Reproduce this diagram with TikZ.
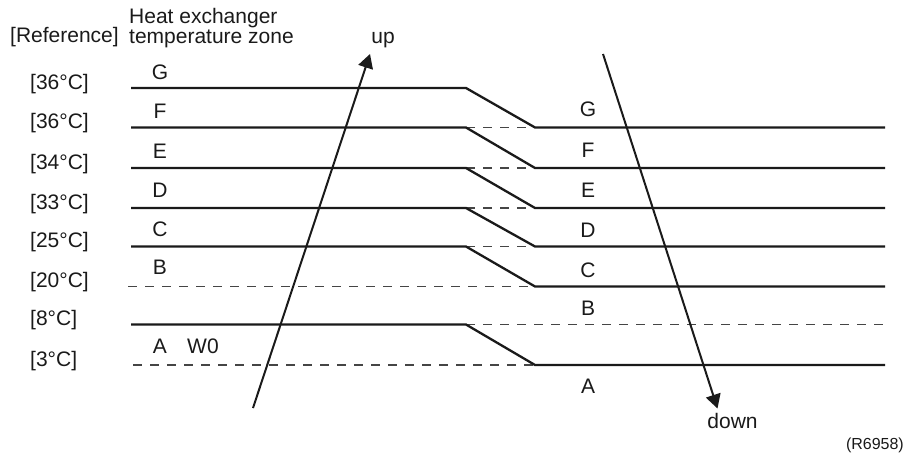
\documentclass[tikz,border=0pt]{standalone}
\usepackage{fontspec}
\setmainfont{Liberation Sans}
\usetikzlibrary{arrows.meta}
\definecolor{ink}{HTML}{1A1A1A}
\definecolor{dashgray}{HTML}{454545}
\begin{document}
\begin{tikzpicture}[x=1pt,y=-1pt,
  txt/.style={inner sep=0pt, anchor=base west, text=ink, font=\fontsize{21}{25}\selectfont},
  ctr/.style={txt, anchor=base},
  small/.style={inner sep=0pt, anchor=base east, text=ink, font=\fontsize{16}{19}\selectfont},
  solidline/.style={draw=ink, line width=2.3pt, line join=miter},
  dashline/.style={draw=dashgray, line width=1.3pt, dash pattern=on 9pt off 8pt},
  arrowline/.style={draw=ink, line width=2pt, -{Triangle[length=14pt,width=15pt]}}]
\useasboundingbox (0,0) rectangle (909,455);

% level coordinates
\coordinate (G0) at (131,88);    \coordinate (G1) at (466,88);
\coordinate (F0) at (131,127.5); \coordinate (F1) at (466,127.5); \coordinate (F2) at (535,127.5); \coordinate (F3) at (885,127.5);
\coordinate (E0) at (131,168);   \coordinate (E1) at (466,168);   \coordinate (E2) at (535,168);   \coordinate (E3) at (885,168);
\coordinate (D0) at (131,208);   \coordinate (D1) at (466,208);   \coordinate (D2) at (535,208);   \coordinate (D3) at (885,208);
\coordinate (C0) at (131,246.5); \coordinate (C1) at (466,246.5); \coordinate (C2) at (535,246.5); \coordinate (C3) at (885,246.5);
\coordinate (B0) at (128,286.5); \coordinate (B2) at (535,286.5); \coordinate (B3) at (885,286.5);
\coordinate (W0) at (131,324.5); \coordinate (W1) at (466,324.5); \coordinate (W3) at (887,324.5);
\coordinate (A0) at (133,365);   \coordinate (A2) at (535,365);   \coordinate (A3) at (885,365);

% dashed segments
\draw[dashline] (F1) -- (F2);
\draw[dashline] (E1) -- (E2);
\draw[dashline] (D1) -- (D2);
\draw[dashline] (C1) -- (C2);
\draw[dashline] (B0) -- (B2);
\draw[dashline] (W1) -- (W3);
\draw[dashline] (A0) -- (A2);

% solid stepped lines
\draw[solidline] (G0) -- (G1) -- (F2) -- (F3);
\draw[solidline] (F0) -- (F1) -- (E2) -- (E3);
\draw[solidline] (E0) -- (E1) -- (D2) -- (D3);
\draw[solidline] (D0) -- (D1) -- (C2) -- (C3);
\draw[solidline] (C0) -- (C1) -- (B2) -- (B3);
\draw[solidline] (W0) -- (W1) -- (A2) -- (A3);

% arrows
\coordinate (upS) at (253,408);   \coordinate (upT) at (370,54);
\coordinate (dnS) at (603,54);    \coordinate (dnT) at (717.5,408.5);
\draw[arrowline] (upS) -- (upT);
\draw[arrowline] (dnS) -- (dnT);

% headings
\node[txt] (heat) at (129,23) {Heat exchanger};
\node[txt] (tz) at (129,43) {temperature zone};
\node[txt] (ref) at (10,42) {[Reference]};
\node[ctr] (uplbl) at (383,43) {up};
\node[ctr] (dnlbl) at (732.5,428) {down};
\node[small] (code) at (904,449) {(R6958)};

% temperature labels
\node[txt] (t1) at (30,89)    {[36°C]};
\node[txt] (t2) at (30,128.5) {[36°C]};
\node[txt] (t3) at (30,169)   {[34°C]};
\node[txt] (t4) at (30,209)   {[33°C]};
\node[txt] (t5) at (30,247.5) {[25°C]};
\node[txt] (t6) at (30,287.5) {[20°C]};
\node[txt] (t7) at (30,325.5) {[8°C]};
\node[txt] (t8) at (30,366)   {[3°C]};

% left zone letters
\node[ctr] (lG) at (160,79)  {G};
\node[ctr] (lF) at (160,118) {F};
\node[ctr] (lE) at (160,158) {E};
\node[ctr] (lD) at (160,197) {D};
\node[ctr] (lC) at (160,236) {C};
\node[ctr] (lB) at (160,274) {B};
\node[ctr] (lA) at (160,353) {A};
\node[txt] (lW) at (187,353) {W0};

% right zone letters
\node[ctr] (rG) at (588,116)   {G};
\node[ctr] (rF) at (588,157)   {F};
\node[ctr] (rE) at (588,197)   {E};
\node[ctr] (rD) at (588,237)   {D};
\node[ctr] (rC) at (588,277)   {C};
\node[ctr] (rB) at (588,315.5) {B};
\node[ctr] (rA) at (588,393)   {A};
\end{tikzpicture}
\end{document}
